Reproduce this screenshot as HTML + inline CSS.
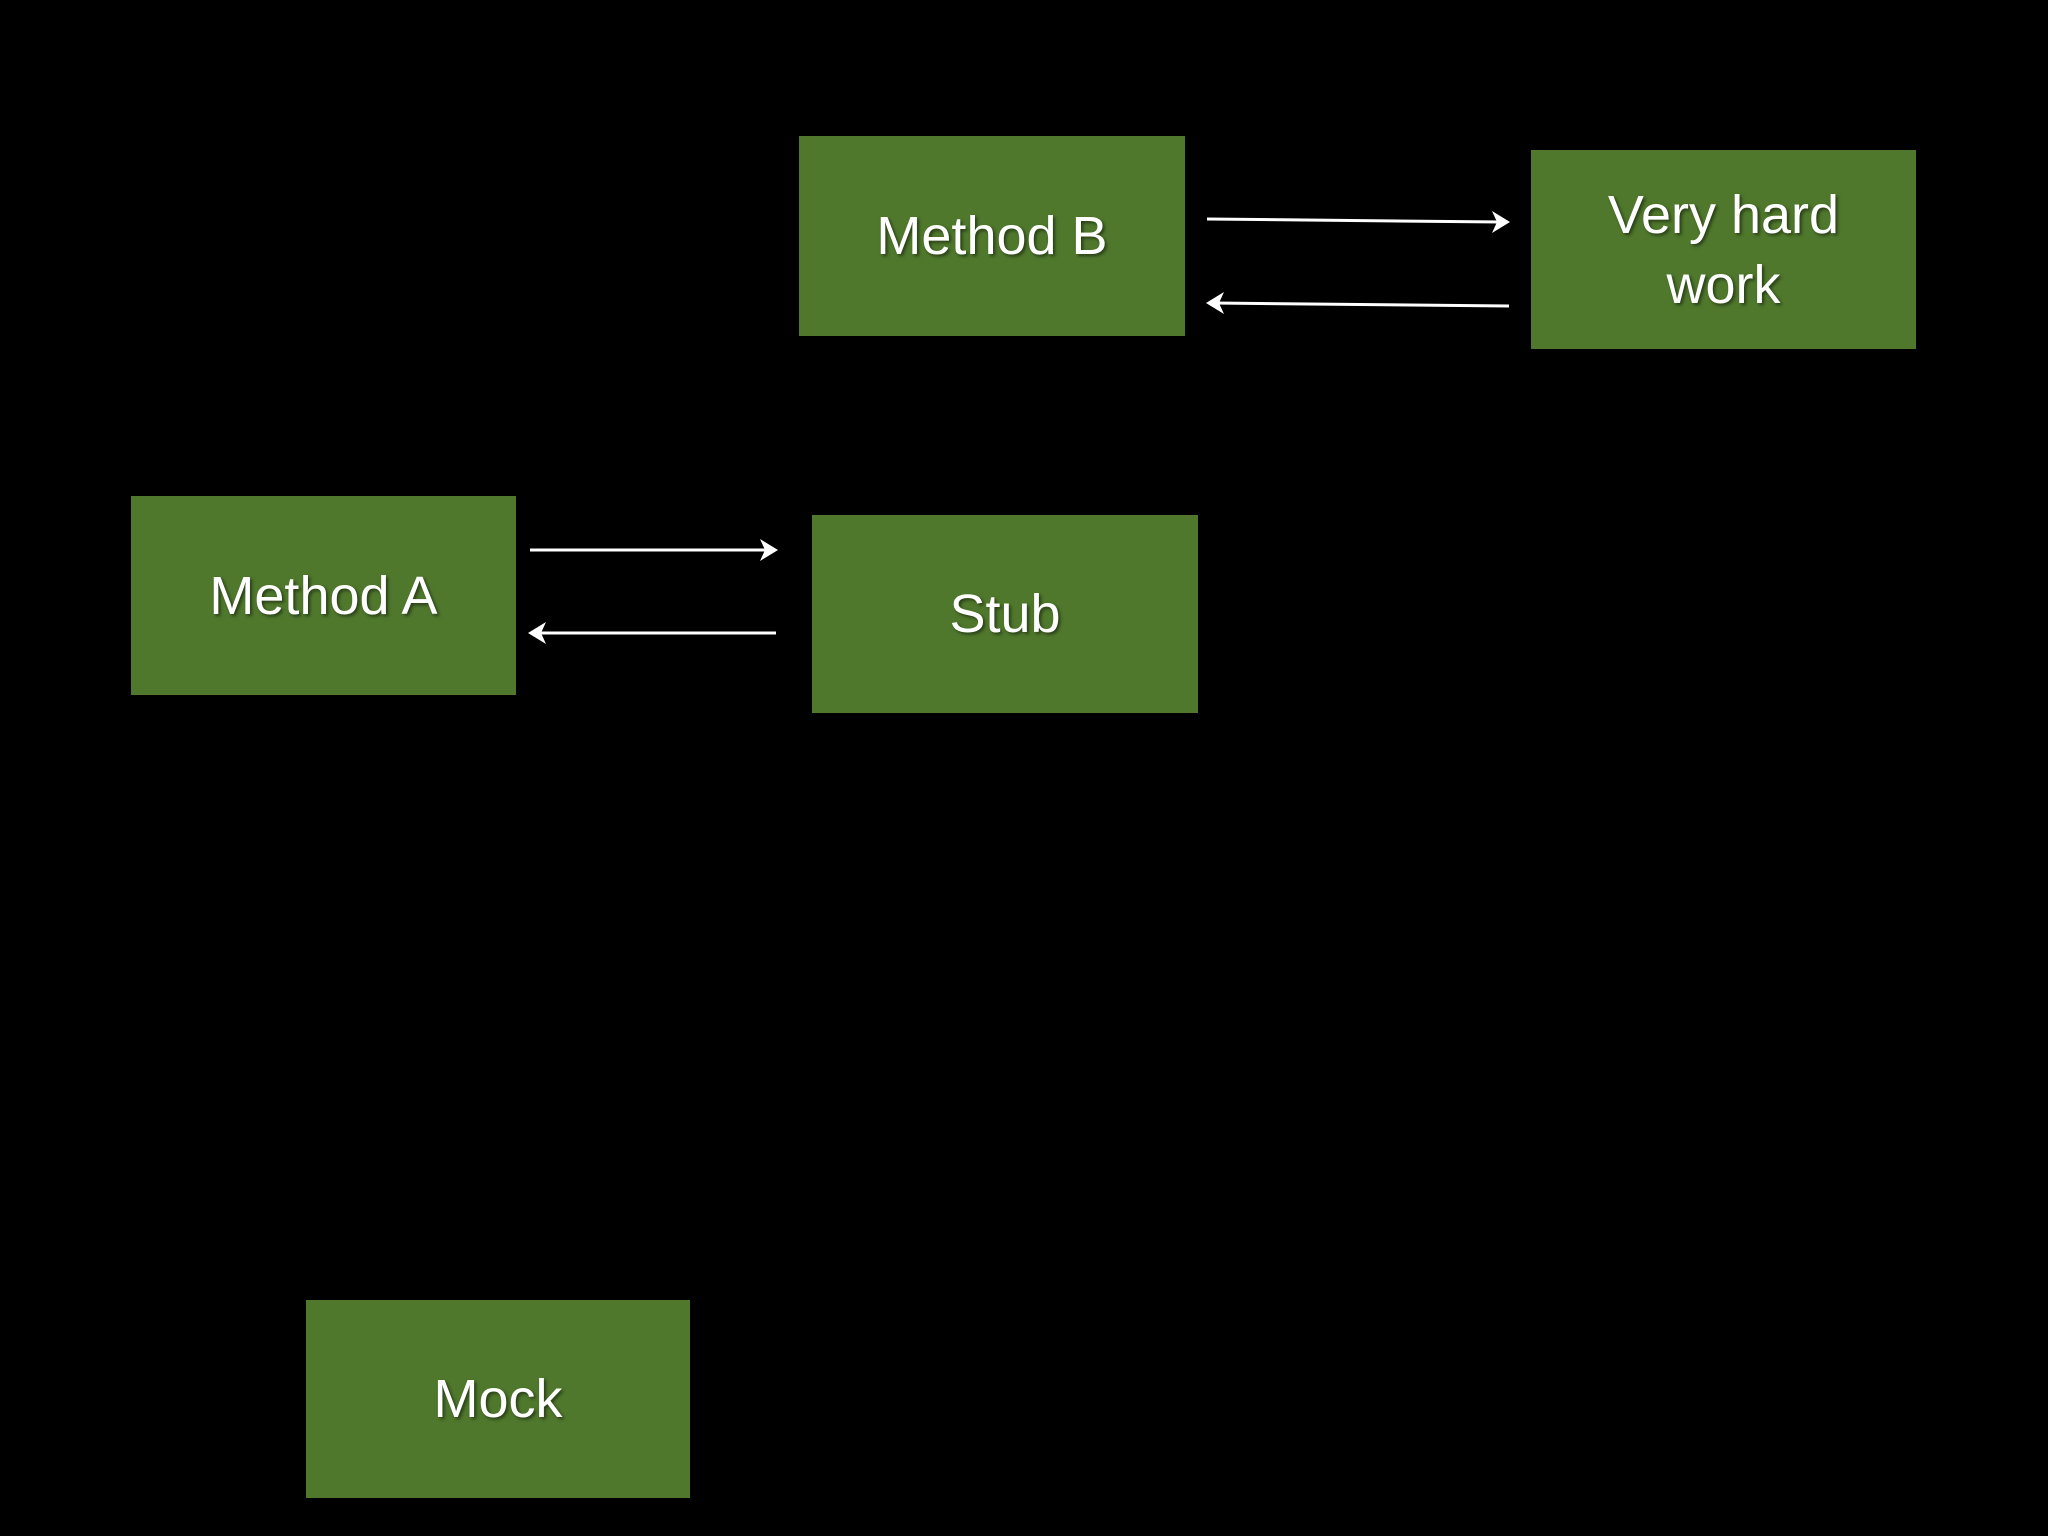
<!DOCTYPE html>
<html><head><style>
html,body{margin:0;padding:0;background:#000;}
body{width:2048px;height:1536px;position:relative;overflow:hidden;font-family:"Liberation Sans","DejaVu Sans",sans-serif;}
.b{position:absolute;background:#4f782c;color:#fff;display:flex;align-items:center;justify-content:center;text-align:center;font-size:54px;line-height:70px;text-shadow:2px 2px 3px rgba(0,0,0,0.5);}
svg{position:absolute;left:0;top:0;}
</style></head><body>
<div class="b" style="left:799px;top:136px;width:386px;height:200px;">Method B</div>
<div class="b" style="left:1531px;top:150px;width:385px;height:199px;">Very hard<br>work</div>
<div class="b" style="left:131px;top:496px;width:385px;height:199px;">Method A</div>
<div class="b" style="left:812px;top:515px;width:386px;height:198px;">Stub</div>
<div class="b" style="left:306px;top:1300px;width:384px;height:198px;">Mock</div>
<svg width="2048" height="1536" viewBox="0 0 2048 1536">
<g stroke="#fff" stroke-width="3" fill="none">
<line x1="1207" y1="219" x2="1500" y2="222"/>
<line x1="1509" y1="306" x2="1214" y2="303"/>
<line x1="530" y1="550" x2="768" y2="550"/>
<line x1="776" y1="633" x2="538" y2="633"/>
</g>
<g fill="#fff">
<path d="M1510,222 L1492,211 L1497,222 L1492,233 Z"/>
<path d="M1206,303 L1224,292 L1219,303 L1224,314 Z"/>
<path d="M778,550 L760,539 L765,550 L760,561 Z"/>
<path d="M528,633 L546,622 L541,633 L546,644 Z"/>
</g>
</svg>
</body></html>
